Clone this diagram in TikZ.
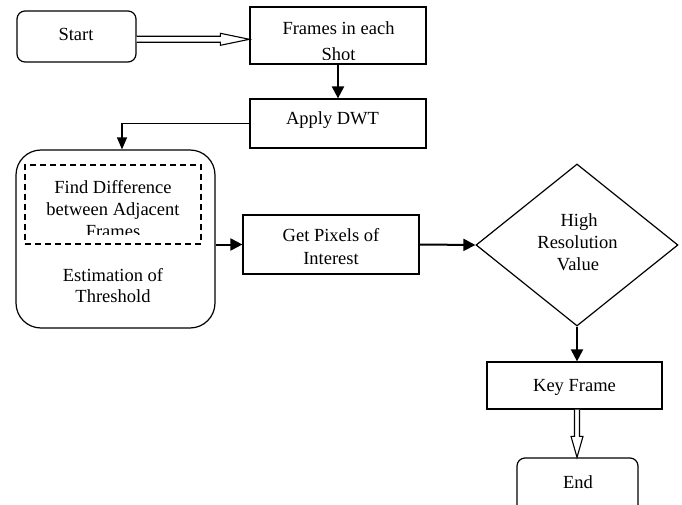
\documentclass[tikz,border=0pt]{standalone}
\usepackage{fontspec}
\setmainfont{Liberation Serif}
\usetikzlibrary{arrows.meta,shapes.geometric,calc}

\begin{document}
\begin{tikzpicture}[x=1pt,y=-1pt,
  box/.style={draw,line width=1.2pt,rectangle,inner sep=0pt},
  rbox/.style={box,rounded corners=8pt},
  txt/.style={anchor=base,inner sep=0pt,font=\fontsize{18.5}{22}\selectfont},
  flow/.style={draw,line width=2pt,-{Triangle[length=12pt,width=12pt]}},
  thinflow/.style={draw,line width=1.3pt,-{Triangle[length=12pt,width=10pt]}},
  hollow/.style={draw,line width=1.1pt,fill=white,line join=miter}
]
\clip (0,0) rectangle (682,505);
\fill[white] (0,0) rectangle (682,505);

% boxes
\node[rbox,minimum width=119pt,minimum height=51pt] (start) at (76.5,36.5) {};
\node[box,minimum width=176pt,minimum height=57pt] (frames) at (338,35.5) {};
\node[box,minimum width=176pt,minimum height=49pt] (apply) at (338,123.5) {};
\node[box,rounded corners=25pt,minimum width=199pt,minimum height=178pt] (est) at (115.5,239) {};
\node[draw,dash pattern=on 6pt off 4pt,line width=1.1pt,inner sep=0pt,minimum width=176pt,minimum height=79pt] (diff) at (113,204.5) {};
\node[box,minimum width=176pt,minimum height=59pt] (pixels) at (331,244.5) {};
\node[draw,line width=1.2pt,diamond,inner sep=0pt,minimum width=202pt,minimum height=162pt] (dia) at (577,245) {};
\node[box,minimum width=175pt,minimum height=47pt] (key) at (574.5,385.5) {};
\node[rbox,minimum width=121pt,minimum height=62pt] (end) at (577.5,489) {};

% texts
\node[txt] (start-t) at (76,41) {Start};
\begin{scope}
  \clip (252,9) rectangle (424,59.5);
  \node[txt] (frames-t1) at (338.5,35) {Frames in each};
  \node[txt] (frames-t2) at (338.5,61) {Shot};
\end{scope}
\node[txt] (apply-t) at (332.5,125) {Apply DWT};
\begin{scope}
  \clip (27,167) rectangle (199,234.5);
  \node[txt] (diff-t1) at (113,193.3) {Find Difference};
  \node[txt] (diff-t2) at (113,215) {between Adjacent};
  \node[txt] (diff-t3) at (113,237) {Frames};
\end{scope}
\node[txt] (est-t1) at (113,281) {Estimation of};
\node[txt] (est-t2) at (113,302) {Threshold};
\node[txt] (pixels-t1) at (331,241.7) {Get Pixels of};
\node[txt] (pixels-t2) at (331,264) {Interest};
\node[txt] (dia-t1) at (579,226.7) {High};
\node[txt] (dia-t2) at (577.5,248.3) {Resolution};
\node[txt] (dia-t3) at (578,270) {Value};
\node[txt] (key-t) at (574.5,391.7) {Key Frame};
\node[txt] (end-t) at (578,488.3) {End};

% hollow block arrow: Start -> Frames
\coordinate (h1) at ([yshift=-2.8pt]start.east);
\coordinate (h1tip) at (frames.west |- h1);
\draw[hollow] ($(h1)+(0,-3)$) -- ($(h1tip)+(-29,-3)$) -- ($(h1tip)+(-29,-6)$)
  -- (h1tip) -- ($(h1tip)+(-29,6)$) -- ($(h1tip)+(-29,3)$) -- ($(h1)+(0,3)$);

% solid connectors
\draw[flow] (frames.south) -- (apply.north);
\draw[thinflow] (apply.west) -| ([xshift=6.5pt]est.north);
\draw[flow] (est.east |- pixels.west) -- (pixels.west);
\draw[flow] (pixels.east) -- (dia.west);
\draw[flow] (dia.south) -- (dia.south |- key.north);

% hollow block arrow: Key Frame -> End
\coordinate (h2) at ([xshift=2.5pt]key.south);
\coordinate (h2tip) at (h2 |- end.north);
\draw[hollow] ($(h2)+(-2.5,0)$) -- ($(h2tip)+(-2.5,-21)$) -- ($(h2tip)+(-6,-21)$)
  -- (h2tip) -- ($(h2tip)+(6,-21)$) -- ($(h2tip)+(2.5,-21)$) -- ($(h2)+(2.5,0)$);
\end{tikzpicture}
\end{document}
